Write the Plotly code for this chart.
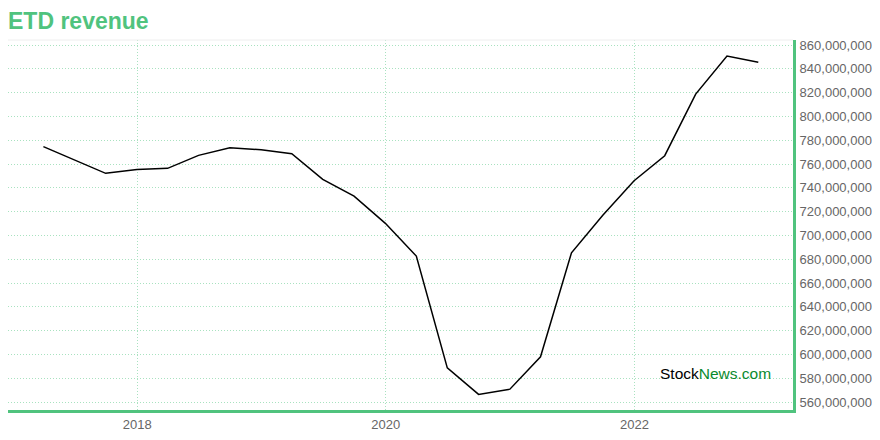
import plotly.graph_objects as go

dates = ["2017-03-31", "2017-06-30", "2017-09-30", "2017-12-31",
         "2018-03-31", "2018-06-30", "2018-09-30", "2018-12-31",
         "2019-03-31", "2019-06-30", "2019-09-30", "2019-12-31",
         "2020-03-31", "2020-06-30", "2020-09-30", "2020-12-31",
         "2021-03-31", "2021-06-30", "2021-09-30", "2021-12-31",
         "2022-03-31", "2022-06-30", "2022-09-30", "2022-12-31"]
revenue = [774.6e6, 763.5e6, 752.2e6, 755.5e6,
           756.4e6, 767.3e6, 773.7e6, 772.0e6,
           768.7e6, 747.1e6, 733.1e6, 710.2e6,
           682.7e6, 588.8e6, 566.5e6, 570.9e6,
           598.1e6, 685.5e6, 717.0e6, 746.0e6,
           767.0e6, 818.8e6, 850.8e6, 845.5e6]

GREEN = "#50c37e"
GRID = "#a9e2c0"
FONT = "Liberation Sans, Arial, sans-serif"

fig = go.Figure()
fig.add_trace(go.Scatter(x=dates, y=revenue, mode="lines",
                         line=dict(color="black", width=1.5),
                         hoverinfo="x+y", showlegend=False))

fig.update_layout(
    width=872, height=432,
    margin=dict(l=0, r=87, t=32, b=30, autoexpand=False),
    paper_bgcolor="white", plot_bgcolor="white",
    title=dict(text="<b>ETD revenue</b>", x=0.0, xanchor="left", xref="container",
               y=1 - 13 / 432, yanchor="middle",
               font=dict(family=FONT, size=23, color=GREEN)),
    font=dict(family=FONT, size=13, color="#666"),
    xaxis=dict(type="date", range=["2016-12-17", "2023-04-12"],
               tick0="2018-01-01", dtick="M24", tickformat="%Y",
               showgrid=True, gridcolor=GRID, griddash="1px,2px", gridwidth=1,
               showline=True, linecolor=GREEN, linewidth=3,
               ticks="", zeroline=False, automargin=False,
               tickfont=dict(size=13, color="#666")),
    yaxis=dict(side="right", range=[553.4e6, 864.2e6],
               tick0=560e6, dtick=20e6, tickformat=",d",
               showgrid=True, gridcolor=GRID, griddash="1px,2px", gridwidth=1,
               showline=True, linecolor=GREEN, linewidth=3,
               ticks="", ticklen=0, ticklabelstandoff=1,
               zeroline=False, automargin=False,
               tickfont=dict(size=13, color="#666")),
)

fig.add_shape(type="line", xref="paper", yref="paper", x0=0, x1=1, y0=1, y1=1,
              line=dict(color="#eeeeee", width=1))

fig.add_annotation(xref="paper", yref="paper", x=707 / 785, y=0.1,
                   text="Stock<span style='color:#0a8a2e'>News.com</span>",
                   showarrow=False, xanchor="center", yanchor="middle",
                   font=dict(family=FONT, size=15.5, color="black"))

fig.write_html("out.html")
